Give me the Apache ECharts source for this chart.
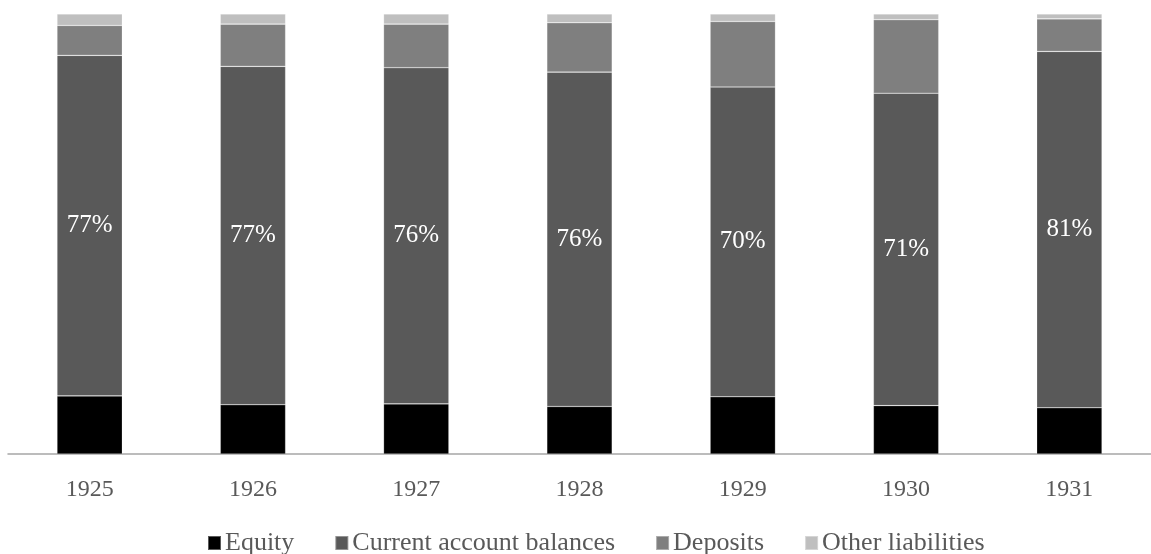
<!DOCTYPE html>
<html>
<head>
<meta charset="utf-8">
<script src="https://cdn.jsdelivr.net/npm/echarts@6/dist/echarts.min.js"></script>
<style>
html,body{margin:0;padding:0;background:#fff;}
#chart{width:1151px;height:554px;}
</style>
</head>
<body>
<div id="chart"></div>
<script>
const years = ['1925','1926','1927','1928','1929','1930','1931'];
const equity = [13.2, 11.2, 11.4, 10.8, 13.0, 11.0, 10.5];
const currentAccount = [77.4, 76.9, 76.4, 76.0, 70.4, 71.0, 81.0];
const deposits = [6.8, 9.6, 9.9, 11.2, 14.9, 16.7, 7.4];
const otherLiabilities = [2.6, 2.3, 2.3, 2.0, 1.7, 1.3, 1.1];

const FONT = '"Liberation Serif", "Times New Roman", serif';
const chart = echarts.init(document.getElementById('chart'));
function ser(name, data, color, label) {
  return {
    name: name, type: 'bar', stack: 'total', data: data, barWidth: '40%',
    itemStyle: { color: color, borderColor: 'rgba(255,255,255,0.35)', borderWidth: 0.6 },
    label: label ? {
      show: true, position: 'inside', color: '#ffffff', fontFamily: FONT, fontSize: 25,
      formatter: p => Math.round(p.value) + '%'
    } : { show: false },
    emphasis: { disabled: true }
  };
}
chart.setOption({
  animation: false,
  grid: { left: 8, right: -3, top: 14, bottom: 100 },
  xAxis: {
    type: 'category', data: years,
    axisLine: { lineStyle: { color: '#a6a6a6', width: 1.5 } },
    axisTick: { show: false },
    axisLabel: { color: '#595959', fontFamily: FONT, fontSize: 24, margin: 24 }
  },
  yAxis: { type: 'value', min: 0, max: 100, show: false, splitLine: { show: false } },
  legend: {
    top: 525, left: 202, itemWidth: 13, itemHeight: 14, itemGap: 40, icon: 'rect',
    textStyle: { color: '#595959', fontFamily: FONT, fontSize: 26, padding: [0, 0, 0, -1] },
    data: ['Equity', 'Current account balances', 'Deposits', 'Other liabilities']
  },
  series: [
    ser('Equity', equity, '#000000', false),
    ser('Current account balances', currentAccount, '#595959', true),
    ser('Deposits', deposits, '#7f7f7f', false),
    ser('Other liabilities', otherLiabilities, '#bfbfbf', false)
  ]
});
</script>
</body>
</html>
